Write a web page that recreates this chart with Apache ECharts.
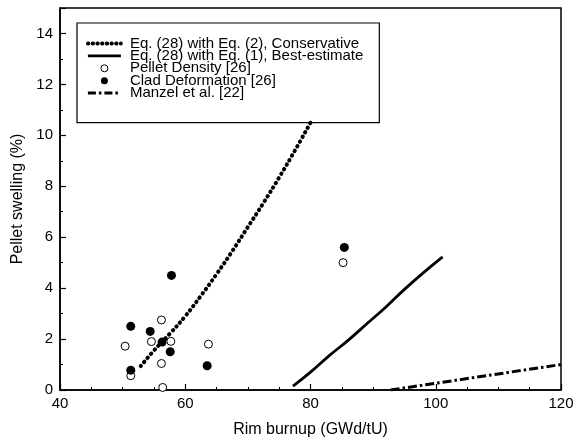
<!DOCTYPE html>
<html>
<head>
<meta charset="utf-8">
<script src="https://cdn.jsdelivr.net/npm/echarts@6/dist/echarts.min.js"></script>
<style>html,body{margin:0;padding:0;background:#fff;}#c{width:587px;height:444px;}</style>
</head>
<body>
<div id="c"></div>
<script>
var seriesNames = ['Eq. (28) with Eq. (2), Conservative', 'Eq. (28) with Eq. (1), Best-estimate', 'Pellet Density [26]', 'Clad Deformation [26]', 'Manzel et al. [22]'];
var conservative = [[52.9, 0.94], [55, 1.55], [57.5, 2.2], [60, 2.9], [62.5, 3.7], [65, 4.55], [67.5, 5.45], [70, 6.4], [72.5, 7.35], [75, 8.35], [77.5, 9.4], [80, 10.5]];
var bestEstimate = [[77.2, 0.15], [80, 0.7], [83, 1.35], [86, 1.95], [89, 2.6], [92, 3.25], [95, 3.95], [98, 4.6], [101.1, 5.23]];
var pelletDensity = [[50.4, 1.72], [51.3, 0.56], [54.6, 1.9], [56.2, 2.75], [57.7, 1.91], [56.2, 1.04], [56.4, 0.1], [63.7, 1.8], [85.2, 5.0]];
var cladDeformation = [[51.3, 2.5], [51.3, 0.78], [54.4, 2.3], [57.8, 4.5], [56.3, 1.88], [57.6, 1.5], [63.5, 0.95], [85.4, 5.6]];
var manzel = [[92.8, 0], [120, 1.0]];

var chart = echarts.init(document.getElementById('c'));
var font = 'Liberation Sans, Arial, sans-serif';
var hideSym = {opacity: 0};
var dotStyle = {color: '#000', width: 4, type: [0.5, 4.8], cap: 'round'};
var solidStyle = {color: '#000', width: 2.8};
var dashDotStyle = {color: '#000', width: 3, type: [9, 3, 2.5, 3]};
chart.setOption({
  animation: false,
  grid: {left: 60, right: 26, top: 8, bottom: 54, show: true, borderColor: '#000', borderWidth: 1.5, backgroundColor: 'transparent'},
  legend: {
    orient: 'vertical', left: 77, top: 23,
    padding: [13, 16, 22, 9],
    itemGap: -2.6,
    itemWidth: 33, itemHeight: 7,
    borderColor: '#000', borderWidth: 1.2,
    textStyle: {fontFamily: font, fontSize: 15, color: '#000', padding: [0, 0, 0, 4]},
    data: [
      {name: seriesNames[0], itemStyle: hideSym, lineStyle: {color: '#000', width: 3.8, type: [0.5, 4.2], cap: 'round'}},
      {name: seriesNames[1], itemStyle: hideSym, lineStyle: {color: '#000', width: 2.8}},
      {name: seriesNames[2], itemStyle: {color: '#fff', borderColor: '#000', borderWidth: 1}},
      {name: seriesNames[3], itemStyle: {color: '#000', opacity: 1}},
      {name: seriesNames[4], itemStyle: hideSym, lineStyle: {color: '#000', width: 3, type: [8, 3, 2.5, 3]}}
    ]
  },
  xAxis: {
    type: 'value', min: 40, max: 120, interval: 20,
    name: 'Rim burnup (GWd/tU)', nameLocation: 'middle', nameGap: 32,
    nameTextStyle: {fontFamily: font, fontSize: 16, color: '#000'},
    axisLine: {lineStyle: {color: '#000', width: 1.5}},
    axisTick: {inside: true, length: 6, lineStyle: {color: '#000', width: 1.2}},
    minorTick: {show: true, splitNumber: 4, length: 3, lineStyle: {color: '#000', width: 1}},
    axisLabel: {fontFamily: font, fontSize: 15, color: '#000', margin: 6},
    splitLine: {show: false}
  },
  yAxis: {
    type: 'value', min: 0, max: 15, interval: 2,
    name: 'Pellet swelling (%)', nameLocation: 'middle', nameGap: 25,
    nameTextStyle: {fontFamily: font, fontSize: 16, color: '#000'},
    axisLine: {lineStyle: {color: '#000', width: 1.5}},
    axisTick: {inside: true, length: 6, lineStyle: {color: '#000', width: 1.2}},
    minorTick: {show: true, splitNumber: 2, length: 3, lineStyle: {color: '#000', width: 1}},
    axisLabel: {fontFamily: font, fontSize: 15, color: '#000', margin: 7, showMaxLabel: false},
    splitLine: {show: false}
  },
  series: [
    {name: seriesNames[0], type: 'line', data: conservative, showSymbol: false, symbol: 'none', smooth: true,
     lineStyle: dotStyle, itemStyle: {color: '#000'}},
    {name: seriesNames[1], type: 'line', data: bestEstimate, showSymbol: false, symbol: 'none', smooth: true,
     lineStyle: solidStyle, itemStyle: {color: '#000'}},
    {name: seriesNames[2], type: 'scatter', data: pelletDensity, symbol: 'circle', symbolSize: 8,
     itemStyle: {color: '#fff', borderColor: '#000', borderWidth: 1, opacity: 1}},
    {name: seriesNames[3], type: 'scatter', data: cladDeformation, symbol: 'circle', symbolSize: 9,
     itemStyle: {color: '#000', opacity: 1}},
    {name: seriesNames[4], type: 'line', data: manzel, showSymbol: false, symbol: 'none',
     lineStyle: dashDotStyle, itemStyle: {color: '#000'}}
  ]
});
</script>
</body>
</html>
